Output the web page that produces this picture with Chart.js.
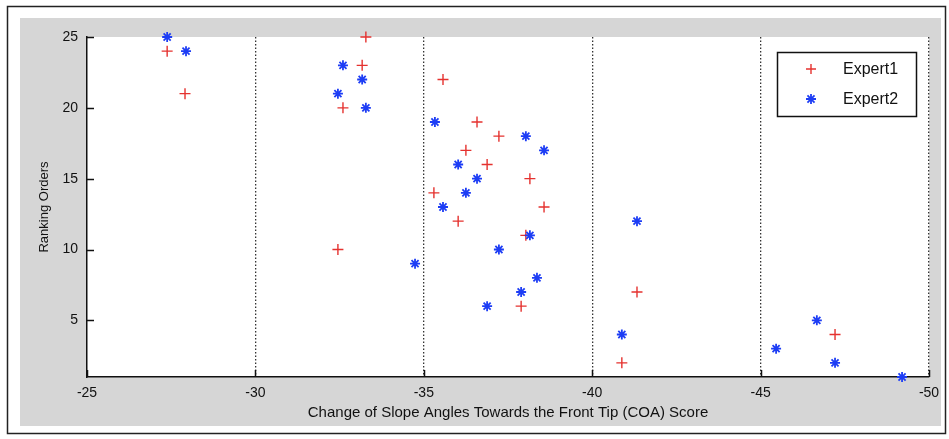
<!DOCTYPE html>
<html>
<head>
<meta charset="utf-8">
<script src="https://cdn.jsdelivr.net/npm/chart.js@4/dist/chart.umd.min.js"></script>
<style>
  html, body { margin: 0; padding: 0; background: #fff; }
  #wrap { width: 949px; height: 439px; }
</style>
</head>
<body>
<div id="wrap"><canvas id="chart1" width="949" height="439"></canvas></div>
<script>
// COA scores (x) and ranking orders (y) for each expert
const expert1X = [-27.38, -27.91, -33.28, -33.17, -32.6, -32.45, -35.57, -36.58, -37.23, -36.25,
                  -36.88, -38.15, -35.3, -38.57, -36.02, -38.03, -37.89, -41.33, -47.21, -40.88];
const expert1Rank = [24, 21, 25, 23, 20, 10, 22, 19, 18, 17,
                     16, 15, 14, 13, 12, 11, 6, 7, 4, 2];

const expert2X = [-27.38, -27.94, -32.6, -33.17, -32.45, -33.28, -35.33, -38.03, -38.57, -36.02,
                  -36.58, -36.25, -35.57, -41.33, -38.15, -37.23, -34.74, -38.36, -37.89, -36.88,
                  -46.67, -40.88, -45.46, -47.21, -49.2];
const expert2Rank = [25, 24, 23, 22, 21, 20, 19, 18, 17, 16,
                     15, 14, 13, 12, 11, 10, 9, 8, 7, 6,
                     5, 4, 3, 2, 1];

const xTicks = [-25, -30, -35, -40, -45, -50];
const yTicks = [5, 10, 15, 20, 25];

const red = '#e5322f';
const blue = '#1d3df5';
const FONT = '"Liberation Sans", Arial, sans-serif';

const toPoints = (xs, ys) => xs.map((x, i) => ({x: x, y: ys[i]}));

// gray figure background, outer frame, white axes box
const bgPlugin = {
    id: 'bg',
    beforeDraw(chart) {
        const c = chart.ctx, a = chart.chartArea;
        c.save();
        c.fillStyle = '#fff';
        c.fillRect(0, 0, chart.width, chart.height);
        c.strokeStyle = '#222';
        c.lineWidth = 1.5;
        c.strokeRect(7.5, 6.5, 938, 427);
        c.fillStyle = '#d6d6d6';
        c.fillRect(20, 18, 921, 408);
        c.fillStyle = '#fff';
        c.fillRect(a.left, a.top, a.right - a.left, a.bottom - a.top);
        c.restore();
    }
};

// matlab style inward tick marks + legend box
const tickLegendPlugin = {
    id: 'tickLegend',
    afterDraw(chart) {
        const c = chart.ctx, a = chart.chartArea;
        const xs = chart.scales.x, ys = chart.scales.y;
        c.save();
        c.strokeStyle = '#111';
        c.lineWidth = 1.5;
        c.beginPath();
        yTicks.forEach(v => {
            const py = Math.round(ys.getPixelForValue(v)) + 0.5;
            c.moveTo(a.left, py); c.lineTo(a.left + 7, py);
        });
        xTicks.forEach(v => {
            const px = Math.round(xs.getPixelForValue(v)) + 0.5;
            c.moveTo(px, a.bottom); c.lineTo(px, a.bottom - 7);
        });
        c.stroke();

        // legend
        const lx = 777, ly = 52, lw = 139, lh = 64;
        c.fillStyle = '#fff';
        c.fillRect(lx, ly, lw, lh);
        c.strokeStyle = '#111';
        c.lineWidth = 1.5;
        c.strokeRect(lx + 0.5, ly + 0.5, lw, lh);
        chart.data.datasets.forEach((ds, i) => {
            const my = ly + 17 + i * 30, mx = lx + 34;
            const r = 5;
            c.strokeStyle = ds.borderColor;
            c.lineWidth = ds.borderWidth;
            c.beginPath();
            c.moveTo(mx - r, my); c.lineTo(mx + r, my);
            c.moveTo(mx, my - r); c.lineTo(mx, my + r);
            if (ds.pointStyle === 'star') {
                const d = r * Math.SQRT1_2;
                c.moveTo(mx - d, my - d); c.lineTo(mx + d, my + d);
                c.moveTo(mx - d, my + d); c.lineTo(mx + d, my - d);
            }
            c.stroke();
            c.fillStyle = '#111';
            c.font = '16px ' + FONT;
            c.textBaseline = 'middle';
            c.fillText(ds.label, lx + 66, my + 1);
        });
        c.restore();
    }
};

new Chart(document.getElementById('chart1'), {
    type: 'scatter',
    data: {
        datasets: [{
            label: 'Expert1',
            data: toPoints(expert1X, expert1Rank),
            pointStyle: 'cross',
            pointRadius: 5.5,
            borderColor: red,
            backgroundColor: red,
            borderWidth: 1.4,
            clip: false,
            order: 2
        }, {
            label: 'Expert2',
            data: toPoints(expert2X, expert2Rank),
            pointStyle: 'star',
            pointRadius: 5,
            borderColor: blue,
            backgroundColor: blue,
            borderWidth: 1.8,
            clip: false,
            order: 1
        }]
    },
    options: {
        responsive: false,
        animation: false,
        layout: {padding: {top: 37, right: 20, left: 0, bottom: 0}},
        scales: {
            x: {
                type: 'linear',
                min: -50,
                max: -25,
                reverse: true,
                afterFit: s => { s.height = 62; },
                afterBuildTicks: s => { s.ticks = xTicks.map(v => ({value: v})); },
                border: {display: true, color: '#111', width: 1.5, dash: [1.5, 2]},
                grid: {
                    drawTicks: false,
                    color: ctx => ctx.tick && ctx.tick.value === -25 ? 'rgba(0,0,0,0)' : '#333',
                    lineWidth: 1.3
                },
                ticks: {
                    padding: 8,
                    color: '#111',
                    font: {family: FONT, size: 14},
                    maxRotation: 0
                },
                title: {
                    display: true,
                    text: 'Change of Slope Angles Towards the Front Tip (COA) Score',
                    color: '#111',
                    font: {family: FONT, size: 15},
                    padding: {top: 0, bottom: 17}
                }
            },
            y: {
                type: 'linear',
                min: 1,
                max: 25,
                afterFit: s => { s.width = 87; },
                afterBuildTicks: s => { s.ticks = yTicks.map(v => ({value: v})); },
                border: {display: true, color: '#111', width: 1.5},
                grid: {display: false, drawTicks: false},
                ticks: {
                    padding: 9,
                    color: '#111',
                    font: {family: FONT, size: 14}
                },
                title: {
                    display: true,
                    text: 'Ranking Orders',
                    color: '#111',
                    font: {family: FONT, size: 13},
                    padding: {top: 37, bottom: 0}
                }
            }
        },
        plugins: {
            legend: {display: false},
            tooltip: {enabled: false}
        }
    },
    plugins: [bgPlugin, tickLegendPlugin]
});
</script>
</body>
</html>
